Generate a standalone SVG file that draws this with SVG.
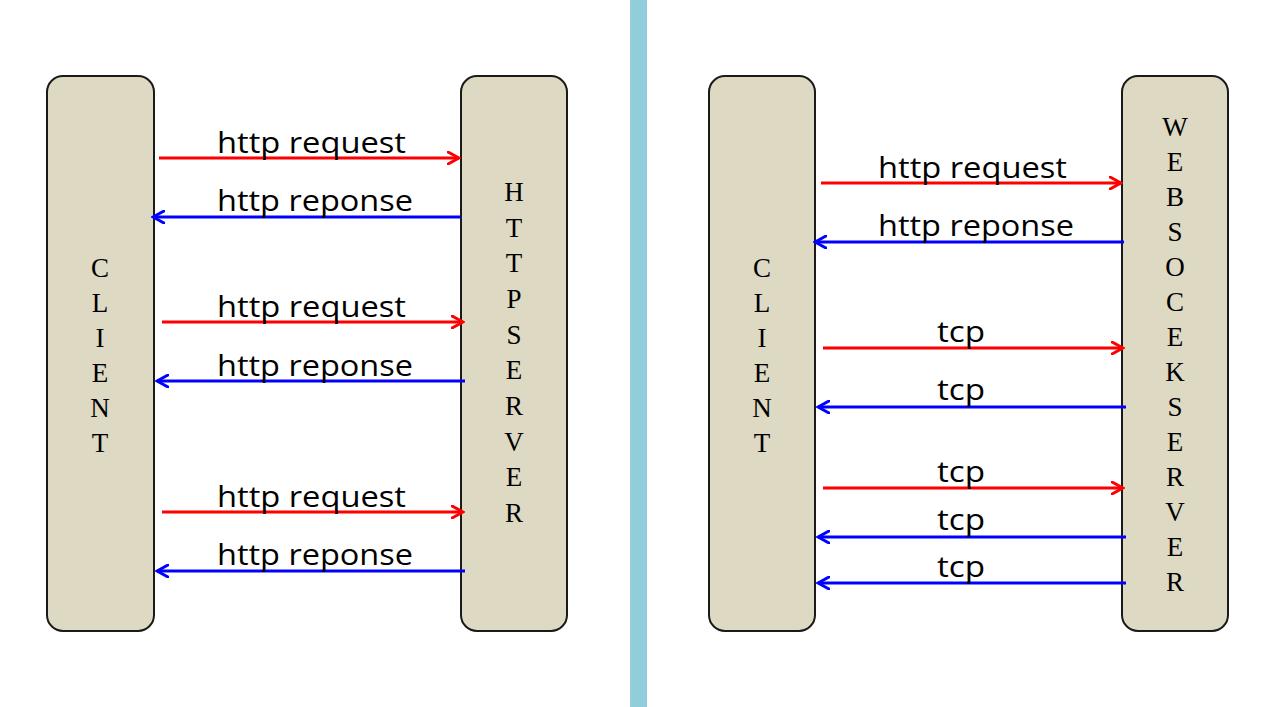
<svg xmlns="http://www.w3.org/2000/svg" width="1276" height="707" viewBox="0 0 1276 707">
<style>
.box{fill:#DDD9C3;stroke:#1a1a1a;stroke-width:2}
.v{font-family:"Liberation Serif",serif;font-size:27px;text-anchor:middle;fill:#000}
.l{font-family:"Open Sans","Liberation Sans",sans-serif;font-size:30px;fill:#000}
.r{stroke:#FF0000;stroke-width:3;fill:none;marker-end:url(#ar)}
.b{stroke:#0000FF;stroke-width:3;fill:none;marker-end:url(#ab)}
</style>
<defs>
<marker id="ar" markerWidth="14" markerHeight="14" refX="12" refY="7" orient="auto" markerUnits="userSpaceOnUse"><path d="M1,1 L12,7 L1,13" fill="none" stroke="#FF0000" stroke-width="3" stroke-linecap="round"/></marker>
<marker id="ab" markerWidth="14" markerHeight="14" refX="12" refY="7" orient="auto" markerUnits="userSpaceOnUse"><path d="M1,1 L12,7 L1,13" fill="none" stroke="#0000FF" stroke-width="3" stroke-linecap="round"/></marker>
</defs>
<rect x="630" y="0" width="17" height="707" fill="#92CDDC"/>
<g id="client1"><rect class="box" x="47" y="76" width="107" height="555" rx="16"/>
<text class="v"><tspan x="100" y="277">C</tspan><tspan x="100" y="312">L</tspan><tspan x="100" y="347">I</tspan><tspan x="100" y="382">E</tspan><tspan x="100" y="417">N</tspan><tspan x="100" y="452">T</tspan></text></g>
<g id="httpserver"><rect class="box" x="461" y="76" width="106" height="555" rx="16"/>
<text class="v"><tspan x="514" y="201">H</tspan><tspan x="514" y="237">T</tspan><tspan x="514" y="272">T</tspan><tspan x="514" y="308">P</tspan><tspan x="514" y="344">S</tspan><tspan x="514" y="379">E</tspan><tspan x="514" y="415">R</tspan><tspan x="514" y="451">V</tspan><tspan x="514" y="486">E</tspan><tspan x="514" y="522">R</tspan></text></g>
<g id="client2"><rect class="box" x="709" y="76" width="106" height="555" rx="16"/>
<text class="v"><tspan x="762" y="277">C</tspan><tspan x="762" y="312">L</tspan><tspan x="762" y="347">I</tspan><tspan x="762" y="382">E</tspan><tspan x="762" y="417">N</tspan><tspan x="762" y="452">T</tspan></text></g>
<g id="wsserver"><rect class="box" x="1122" y="76" width="106" height="555" rx="16"/>
<text class="v"><tspan x="1175" y="136">W</tspan><tspan x="1175" y="171">E</tspan><tspan x="1175" y="206">B</tspan><tspan x="1175" y="241">S</tspan><tspan x="1175" y="276">O</tspan><tspan x="1175" y="311">C</tspan><tspan x="1175" y="346">E</tspan><tspan x="1175" y="381">K</tspan><tspan x="1175" y="416">S</tspan><tspan x="1175" y="451">E</tspan><tspan x="1175" y="486">R</tspan><tspan x="1175" y="521">V</tspan><tspan x="1175" y="556">E</tspan><tspan x="1175" y="591">R</tspan></text></g>
<g id="connectors">
<path class="r" d="M159,158 H459"/><path class="b" d="M461,217 H153"/>
<path class="r" d="M162,322 H463"/><path class="b" d="M465,381 H157"/>
<path class="r" d="M162,512 H463"/><path class="b" d="M465,571 H157"/>
<path class="r" d="M821,183 H1121"/><path class="b" d="M1124,242 H815"/>
<path class="r" d="M823,348 H1123"/><path class="b" d="M1126,407 H818"/>
<path class="r" d="M823,488 H1123"/><path class="b" d="M1126,537 H818"/>
<path class="b" d="M1126,583 H818"/>
<text class="l" x="217" y="153" textLength="189" lengthAdjust="spacingAndGlyphs">http request</text>
<text class="l" x="217" y="211" textLength="196" lengthAdjust="spacingAndGlyphs">http reponse</text>
<text class="l" x="217" y="317" textLength="189" lengthAdjust="spacingAndGlyphs">http request</text>
<text class="l" x="217" y="376" textLength="196" lengthAdjust="spacingAndGlyphs">http reponse</text>
<text class="l" x="217" y="507" textLength="189" lengthAdjust="spacingAndGlyphs">http request</text>
<text class="l" x="217" y="565" textLength="196" lengthAdjust="spacingAndGlyphs">http reponse</text>
<text class="l" x="878" y="178" textLength="189" lengthAdjust="spacingAndGlyphs">http request</text>
<text class="l" x="878" y="236" textLength="196" lengthAdjust="spacingAndGlyphs">http reponse</text>
<text class="l" x="937" y="342" textLength="48" lengthAdjust="spacingAndGlyphs">tcp</text>
<text class="l" x="937" y="400" textLength="48" lengthAdjust="spacingAndGlyphs">tcp</text>
<text class="l" x="937" y="482" textLength="48" lengthAdjust="spacingAndGlyphs">tcp</text>
<text class="l" x="937" y="530" textLength="48" lengthAdjust="spacingAndGlyphs">tcp</text>
<text class="l" x="937" y="577" textLength="48" lengthAdjust="spacingAndGlyphs">tcp</text>
</g>
</svg>
